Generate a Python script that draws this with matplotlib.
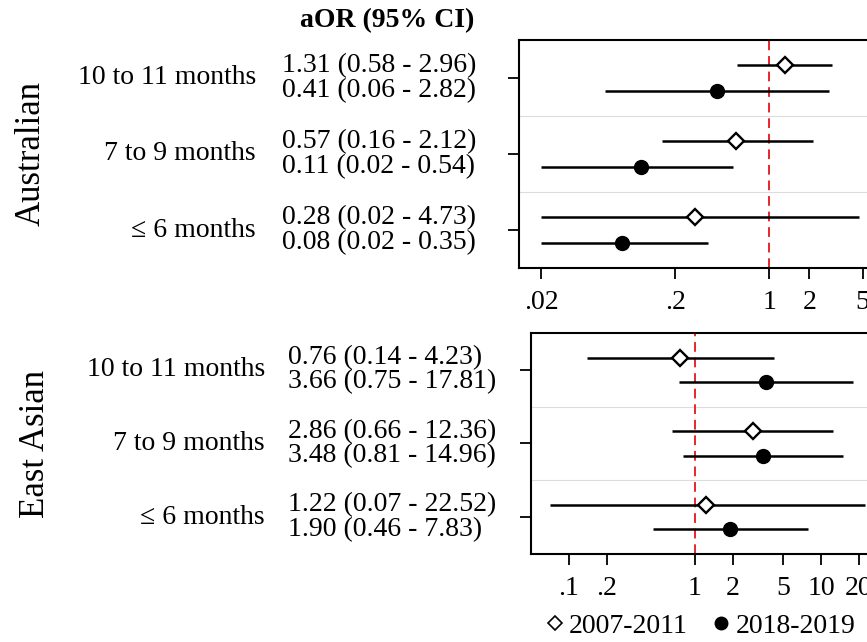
import matplotlib
matplotlib.use("Agg")
import matplotlib.pyplot as plt
from matplotlib.lines import Line2D
from matplotlib.transforms import blended_transform_factory

plt.rcParams['font.family'] = ['Liberation Serif', 'DejaVu Sans']

groups = ["10 to 11 months", "7 to 9 months", "\u2264 6 months"]
periods = ["2007-2011", "2018-2019"]

# Australian
aus_or_a = [1.31, 0.57, 0.28]
aus_lo_a = [0.58, 0.16, 0.02]
aus_hi_a = [2.96, 2.12, 4.73]
aus_or_b = [0.41, 0.11, 0.08]
aus_lo_b = [0.06, 0.02, 0.02]
aus_hi_b = [2.82, 0.54, 0.35]

# East Asian
ea_or_a = [0.76, 2.86, 1.22]
ea_lo_a = [0.14, 0.66, 0.07]
ea_hi_a = [4.23, 12.36, 22.52]
ea_or_b = [3.66, 3.48, 1.90]
ea_lo_b = [0.75, 0.81, 0.46]
ea_hi_b = [17.81, 14.96, 7.83]

aus_ticks = [0.02, 0.2, 1, 2, 5]
aus_ticklabels = [".02", ".2", "1", "2", "5"]
ea_ticks = [0.1, 0.2, 1, 2, 5, 10, 20]
ea_ticklabels = [".1", ".2", "1", "2", "5", "10", "20"]

W, H = 867, 642
fig = plt.figure(figsize=(W / 100, H / 100), dpi=100)


def px_axes(left, top, right, bottom):
    return fig.add_axes([left / W, 1 - bottom / H, (right - left) / W, (bottom - top) / H])


def panel(ax, name, name_x, lbl_x, ci_x, xlim, ticks, ticklabels,
          or_a, lo_a, hi_a, or_b, lo_b, hi_b):
    ys = [3, 2, 1]
    off = 0.165
    ya = [y + off for y in ys]
    yb = [y - off for y in ys]
    ax.set_xscale("log")
    ax.set_xlim(*xlim)
    ax.set_ylim(0.5, 3.5)
    for s in [1.5, 2.5]:
        ax.axhline(s, color="#dcdcdc", lw=0.8, zorder=0)
    ax.axvline(1, color="#e8262b", lw=1.4, ls=(0, (5, 3)), zorder=1)
    ax.hlines(ya, lo_a, hi_a, color="black", lw=1.8, zorder=2)
    ax.hlines(yb, lo_b, hi_b, color="black", lw=1.8, zorder=2)
    ax.plot(or_a, ya, ls="none", marker="D", ms=8.5, mfc="white", mec="black", mew=1.7, zorder=3)
    ax.plot(or_b, yb, ls="none", marker="o", ms=10, mfc="black", mec="black", zorder=3)
    ax.set_yticks(ys)
    ax.set_yticklabels([])
    ax.set_xticks(ticks)
    ax.set_xticklabels(ticklabels)
    ax.minorticks_off()
    ax.tick_params(axis="both", length=8, width=1.3, labelsize=20)
    ax.tick_params(axis="x", pad=8)
    for sp in ax.spines.values():
        sp.set_linewidth(1.5)

    tr = blended_transform_factory(fig.transFigure, ax.transData)
    for i, y in enumerate(ys):
        ax.text(lbl_x / W, y, groups[i], transform=tr, ha="right", va="center", fontsize=20)
        ax.text(ci_x / W, ya[i], "%.2f (%.2f - %.2f)" % (or_a[i], lo_a[i], hi_a[i]),
                transform=tr, ha="left", va="center", fontsize=20)
        ax.text(ci_x / W, yb[i], "%.2f (%.2f - %.2f)" % (or_b[i], lo_b[i], hi_b[i]),
                transform=tr, ha="left", va="center", fontsize=20)
    ax.text(name_x / W, 2, name, transform=tr, ha="center", va="center",
            rotation=90, fontsize=25)


ax1 = px_axes(519, 40, 930, 268)
panel(ax1, "Australian", 31, 256, 282, (0.0136, 15.9), aus_ticks, aus_ticklabels,
      aus_or_a, aus_lo_a, aus_hi_a, aus_or_b, aus_lo_b, aus_hi_b)

ax2 = px_axes(531, 333, 930, 554)
panel(ax2, "East Asian", 36, 265, 288, (0.0499, 73.3), ea_ticks, ea_ticklabels,
      ea_or_a, ea_lo_a, ea_hi_a, ea_or_b, ea_lo_b, ea_hi_b)

fig.text(387 / W, 1 - 21 / H, "aOR (95% CI)", ha="center", va="center",
         fontsize=20, fontweight="bold")

handles = [
    Line2D([], [], ls="none", marker="D", ms=7, mfc="white", mec="black", mew=1.2),
    Line2D([], [], ls="none", marker="o", ms=9, mfc="black", mec="black"),
]
fig.legend(handles, periods, loc="center left", bbox_to_anchor=(547 / W, 1 - 626 / H),
           ncol=2, frameon=False, fontsize=20, handlelength=0.6, handletextpad=0.2,
           columnspacing=0.9, borderpad=0, borderaxespad=0)

fig.savefig("out.png", dpi=100)
